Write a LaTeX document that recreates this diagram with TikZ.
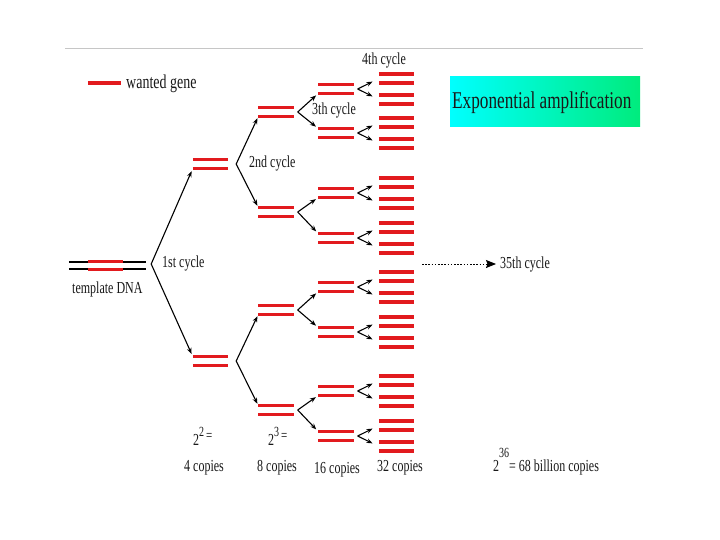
\documentclass[tikz,border=0pt]{standalone}
\usepackage{fontspec}
\usepackage{graphicx}
\setmainfont{Liberation Serif}
\usetikzlibrary{arrows.meta,calc}
\definecolor{genered}{RGB}{226,26,30}
\definecolor{txtc}{RGB}{25,25,25}
\definecolor{boxgreen}{RGB}{0,236,125}
\definecolor{boxmid}{RGB}{0,250,225}
\newcommand{\vs}[1]{\scalebox{1}[1.4]{#1}}
\tikzset{
  lbl/.style={inner sep=0pt, anchor=base west, text=txtc, font=\fontsize{12}{14}\selectfont},
  dna/.style={inner sep=0pt, minimum width=35pt, minimum height=8.4pt},
  redline/.style={draw=genered, line width=3.3pt},
  arr/.style={draw=black, line width=1.1pt, -{Stealth[length=6pt,width=4.6pt]}},
}
\begin{document}
\begin{tikzpicture}[x=1pt,y=-1pt]
\fill[white] (0,0) rectangle (720,540);
\useasboundingbox (0,0) rectangle (720,540);
% top rule
\coordinate (r1) at (65,49); \coordinate (r2) at (643,49);
\draw[gray!45, line width=1pt] (r1) -- (r2);
% legend
\node[inner sep=0pt, minimum width=33pt, minimum height=4pt] (leg) at (104.5,83) {};
\draw[draw=genered, line width=3.8pt] (leg.west) -- (leg.east);
\node[lbl, font=\fontsize{14}{16}\selectfont] (legtxt) at (126,89) {\vs{wanted gene}};
% template DNA
\node[inner sep=0pt, minimum width=77pt, minimum height=7pt] (tpl) at (107.5,265.5) {};
\draw[black, line width=1.8pt] (tpl.north west) -- (tpl.north east) (tpl.south west) -- (tpl.south east);
\draw[redline] ($(tpl.north west)+(19,0)$) -- ($(tpl.north west)+(54,0)$)
               ($(tpl.south west)+(19,0)$) -- ($(tpl.south west)+(54,0)$);
\node[lbl] (tpltxt) at (72,293) {\vs{template DNA}};
% level 1
\node[dna] (L1-1) at (210.5,164) {};
\node[dna] (L1-2) at (210.5,361) {};
% level 2
\foreach \i/\y in {1/112,2/212,3/310,4/410}{\node[dna] (L2-\i) at (276,\y) {};}
% level 3
\foreach \i/\y in {1/89,2/133,3/193,4/238,5/287,6/332,7/391,8/436}{\node[dna] (L3-\i) at (336,\y) {};}
% level 4
\foreach \i/\y in {1/89,2/133,3/193,4/238,5/287,6/332,7/391,8/436}{
  \pgfmathtruncatemacro{\a}{2*\i-1}\pgfmathtruncatemacro{\b}{2*\i}
  \node[dna] (L4-\a) at (396.5,\y-10.5) {};
  \node[dna] (L4-\b) at (396.5,\y+10.5) {};
}
% red double lines
\foreach \n in {L1-1,L1-2,L2-1,L2-2,L2-3,L2-4,L3-1,L3-2,L3-3,L3-4,L3-5,L3-6,L3-7,L3-8,
  L4-1,L4-2,L4-3,L4-4,L4-5,L4-6,L4-7,L4-8,L4-9,L4-10,L4-11,L4-12,L4-13,L4-14,L4-15,L4-16}{
  \draw[redline] (\n.north west) -- (\n.north east) (\n.south west) -- (\n.south east);
}
% connectors
\draw[arr, shorten >=3pt] ($(tpl.east)+(5,-1.5)$) -- (L1-1.south west);
\draw[arr, shorten >=3pt] ($(tpl.east)+(5,-1.5)$) -- (L1-2.north west);
\foreach \p/\a/\b in {1/1/2,2/3/4}{
  \draw[arr, shorten >=2pt] ($(L1-\p.east)+(8,0)$) -- (L2-\a.south west);
  \draw[arr, shorten >=2pt] ($(L1-\p.east)+(8,0)$) -- (L2-\b.north west);
}
\foreach \p/\a/\b in {1/1/2,2/3/4,3/5/6,4/7/8}{
  \draw[arr, shorten >=3pt] ($(L2-\p.east)+(4,0)$) -- (L3-\a.south west);
  \draw[arr, shorten >=3pt] ($(L2-\p.east)+(4,0)$) -- (L3-\b.north west);
}
\foreach \p in {1,...,8}{
  \pgfmathtruncatemacro{\a}{2*\p-1}\pgfmathtruncatemacro{\b}{2*\p}
  \draw[arr, shorten >=7pt] ($(L3-\p.east)+(4,0)$) -- (L4-\a.west);
  \draw[arr, shorten >=7pt] ($(L3-\p.east)+(4,0)$) -- (L4-\b.west);
}
% cycle labels
\node[lbl] (c1) at (162,267) {\vs{1st cycle}};
\node[lbl] (c2) at (249,168) {\vs{2nd cycle}};
\node[lbl] (c3) at (312,115) {\vs{3th cycle}};
\node[lbl] (c4) at (362,65) {\vs{4th cycle}};
\node[lbl] (c35) at (500,268) {\vs{35th cycle}};
\coordinate (dstart) at (422,264);
\draw[black, line width=1pt, dash pattern=on 1.6pt off 1.6pt, -{Stealth[length=10pt,width=8pt,inset=1.5pt]}, shorten >=4pt] (dstart) -- (dstart -| c35.west);
% title box
\shade[left color=cyan, middle color=boxmid, right color=boxgreen] (450,77) rectangle (640,127);
\node[lbl, font=\fontsize{17.2}{19}\selectfont] (title) at (452,109) {\vs{Exponential amplification}};
% bottom labels
\node[lbl] (p2) at (193,445) {\vs{2\raisebox{6pt}{\fontsize{10}{12}\selectfont 2}\,\raisebox{3pt}{\fontsize{11}{12}\selectfont =}}};
\node[lbl] (p3) at (268,445) {\vs{2\raisebox{6pt}{\fontsize{10}{12}\selectfont 3}\,\raisebox{3pt}{\fontsize{11}{12}\selectfont =}}};
\node[lbl] (n4) at (184,471) {\vs{4 copies}};
\node[lbl] (n8) at (257,471) {\vs{8 copies}};
\node[lbl] (n16) at (314,473) {\vs{16 copies}};
\node[lbl] (n32) at (377,471) {\vs{32 copies}};
\node[lbl] (n36) at (493,471) {\vs{2\raisebox{10pt}{\fontsize{10}{12}\selectfont 36}= 68 billion copies}};
\end{tikzpicture}
\end{document}
